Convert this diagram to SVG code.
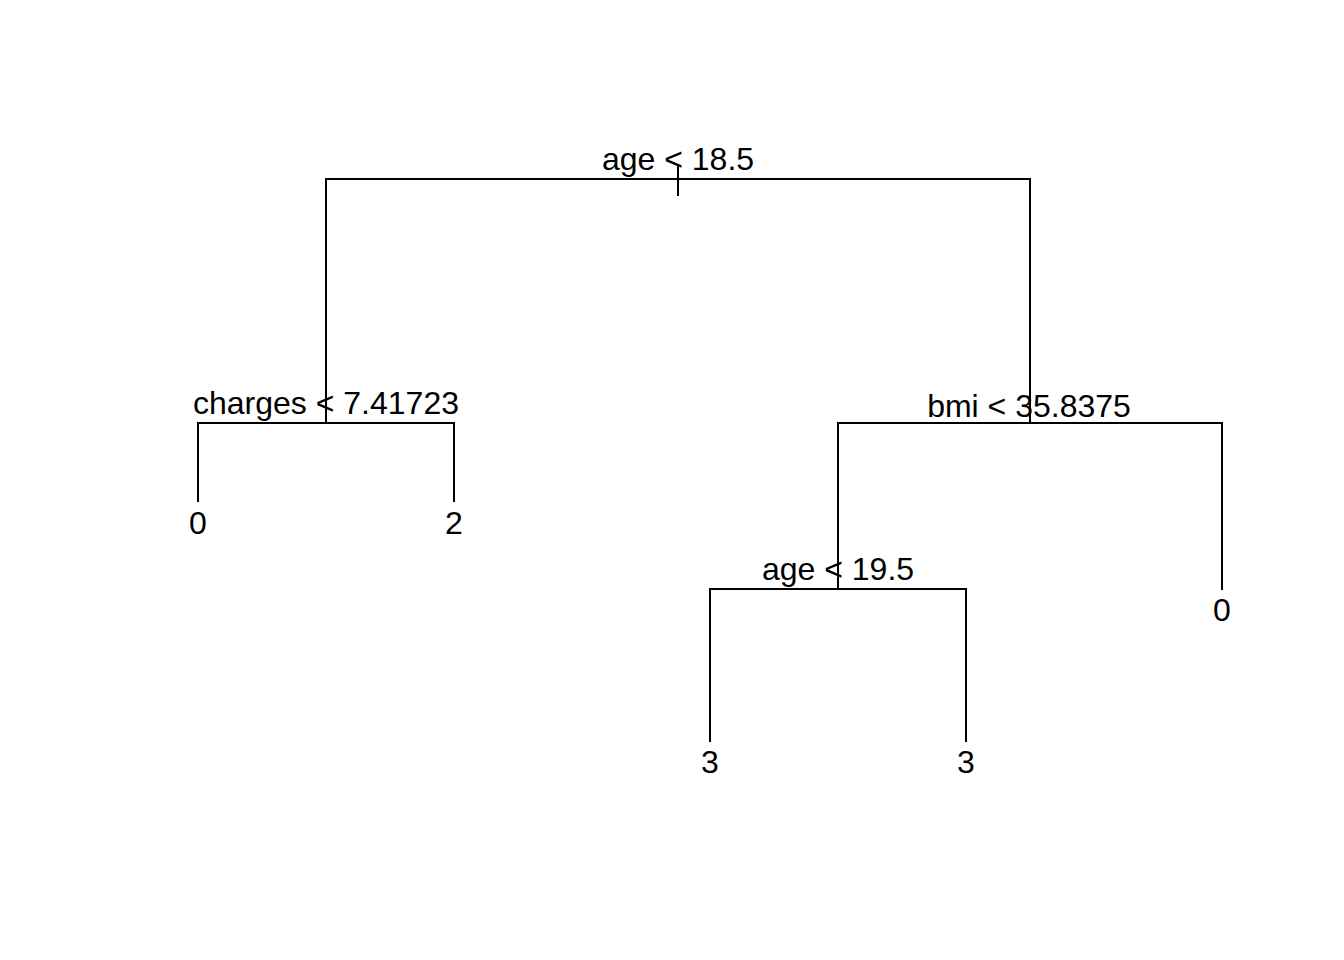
<svg xmlns="http://www.w3.org/2000/svg" width="1344" height="960" viewBox="0 0 1344 960">
<style>
.e{stroke:#000;stroke-width:2;fill:none;stroke-linecap:butt}
.t{font-family:"Liberation Sans",Arial,sans-serif;font-size:32px;fill:#000;text-anchor:middle}
</style>
<rect width="1344" height="960" fill="#fff"/>
<g id="connectors">
<path class="e" d="M678 166V196"/>
<path class="e" d="M326 423V179H1030V423"/>
<path class="e" d="M198 502V423H454V502"/>
<path class="e" d="M838 589V423H1222V590"/>
<path class="e" d="M710 742V589H966V742"/>
</g>
<g id="n_root"><text class="t" x="678" y="170">age &lt; 18.5</text></g>
<g id="n_charges"><text class="t" x="326" y="414">charges &lt; 7.41723</text></g>
<g id="n_bmi"><text class="t" x="1029" y="417">bmi &lt; 35.8375</text></g>
<g id="n_age2"><text class="t" x="838" y="580">age &lt; 19.5</text></g>
<g id="leaf1"><text class="t" x="198" y="534">0</text></g>
<g id="leaf2"><text class="t" x="454" y="534">2</text></g>
<g id="leaf3"><text class="t" x="710" y="773">3</text></g>
<g id="leaf4"><text class="t" x="966" y="773">3</text></g>
<g id="leaf5"><text class="t" x="1222" y="621">0</text></g>
</svg>
